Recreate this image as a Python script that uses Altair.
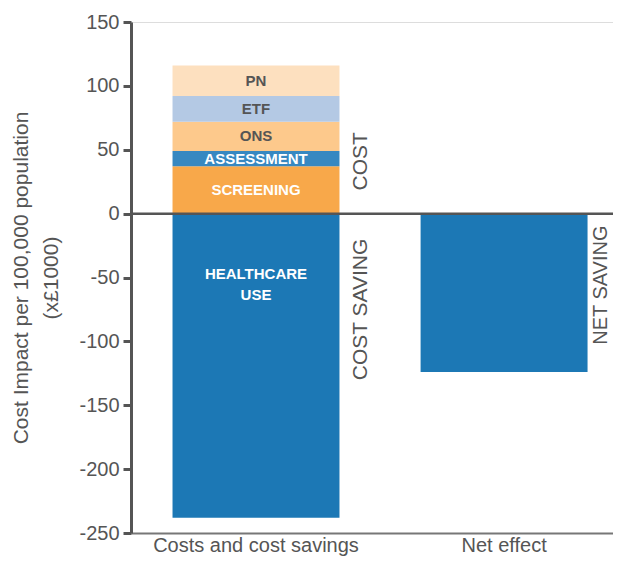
import altair as alt
import pandas as pd

# ---- data ----
categories = ["Costs and cost savings", "Net effect"]
cost_items = ["SCREENING", "ASSESSMENT", "ONS", "ETF", "PN"]
cost_values = [37, 12, 23, 20, 24]
cost_colors = ["#f8a84a", "#3788c1", "#fdc98c", "#b4c9e4", "#fde0bf"]
cost_text_colors = ["#ffffff", "#ffffff", "#555555", "#555555", "#555555"]
saving_item = "HEALTHCARE\nUSE"
saving_value = -238
saving_label_y = -47
net_value = -124
bar_blue = "#1c78b5"
side_labels = ["COST", "COST SAVING"]
side_label_y = [41, -75]
net_label = "NET SAVING"
net_label_y = -56
y_ticks = [-250, -200, -150, -100, -50, 0, 50, 100, 150]

rows = []
base = 0
for item, v, c, tc in zip(cost_items, cost_values, cost_colors, cost_text_colors):
    rows.append(dict(cat=categories[0], item=item, start=base, end=base + v,
                     mid=base + v / 2, color=c, tcolor=tc))
    base += v
rows.append(dict(cat=categories[0], item=saving_item, start=0, end=saving_value,
                 mid=saving_label_y, color=bar_blue, tcolor="#ffffff"))
rows.append(dict(cat=categories[1], item="", start=0, end=net_value,
                 mid=net_value / 2, color=bar_blue, tcolor="#ffffff"))
bars_df = pd.DataFrame(rows)

side_df = pd.DataFrame({"cat": [categories[0]] * len(side_labels), "y": side_label_y,
                        "label": side_labels})
net_df = pd.DataFrame({"cat": [categories[1]], "y": [net_label_y], "label": [net_label]})
zero_df = pd.DataFrame({"y": [0]})

FONT = "Liberation Sans"
GRAY = "#555555"

x_scale = alt.Scale(domain=categories, paddingInner=0.327, paddingOuter=0.135, align=0.62)
y_scale = alt.Scale(domain=[-250, 150], nice=False, zero=False)

x_enc = alt.X("cat:N", sort=categories, scale=x_scale,
              axis=alt.Axis(title=None, labelAngle=0, labelFontSize=20, labelColor=GRAY,
                            labelPadding=2, ticks=False, domainColor="#777777",
                            domainWidth=2, labelFont=FONT, labelLimit=0))

bars = alt.Chart(bars_df).mark_bar(stroke=None).encode(
    x=x_enc,
    y=alt.Y("start:Q", scale=y_scale,
            axis=alt.Axis(values=y_ticks, grid=False,
                          labelExpr="datum.value < 0 ? '-' + abs(datum.value) : '' + datum.value",
                          title=["Cost Impact per 100,000 population", "(x£1000)"],
                          titleFontSize=21, titleFontWeight="normal", titleColor=GRAY,
                          titleFont=FONT, titlePadding=17, titleLineHeight=30,
                          labelFontSize=20, labelColor=GRAY, labelFont=FONT, labelPadding=4,
                          domainColor=GRAY, domainWidth=3, tickColor=GRAY, tickWidth=3,
                          tickSize=8)),
    y2="end:Q",
    color=alt.Color("color:N", scale=None),
)

labels = alt.Chart(bars_df).mark_text(fontWeight="bold", fontSize=15, font=FONT,
                                      lineBreak="\n", lineHeight=21,
                                      baseline="middle", align="center").encode(
    x=alt.X("cat:N", sort=categories, scale=x_scale),
    y=alt.Y("mid:Q", scale=y_scale),
    text="item:N",
    color=alt.Color("tcolor:N", scale=None),
)

zero = alt.Chart(zero_df).mark_rule(color=GRAY, strokeWidth=2.5).encode(
    y=alt.Y("y:Q", scale=y_scale)
)

side = alt.Chart(side_df).mark_text(angle=270, baseline="top", align="center", dy=11,
                                    fontSize=21, font=FONT, color=GRAY).encode(
    x=alt.X("cat:N", sort=categories, scale=x_scale, bandPosition=1),
    y=alt.Y("y:Q", scale=y_scale),
    text="label:N",
)

net_side = alt.Chart(net_df).mark_text(angle=270, baseline="top", align="center", dy=3,
                                       fontSize=20, font=FONT, color=GRAY).encode(
    x=alt.X("cat:N", sort=categories, scale=x_scale, bandPosition=1),
    y=alt.Y("y:Q", scale=y_scale),
    text="label:N",
)

chart = alt.layer(bars, labels, zero, side, net_side).properties(
    width=482, height=511,
    autosize=alt.AutoSizeParams(type="none"),
    padding={"left": 123, "top": 14, "right": 0, "bottom": 25},
).configure_view(stroke=None).configure(font=FONT)

chart.save("out.html", embed_options={"renderer": "svg", "actions": False})
